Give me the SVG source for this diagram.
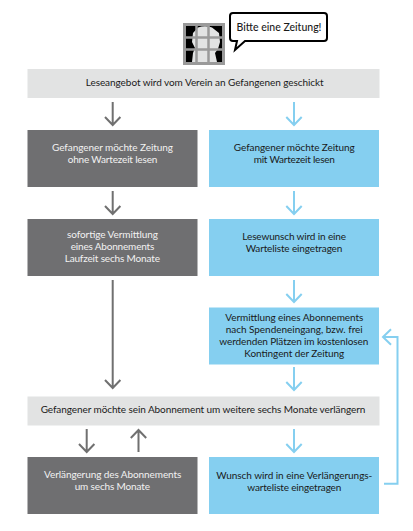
<svg xmlns="http://www.w3.org/2000/svg" width="413" height="531" viewBox="0 0 413 531">
<style>
text{font-family:"Lato","Open Sans",sans-serif;font-size:10px;text-anchor:middle;fill:#1a1a1a}
.w{fill:#f2f2f2}
.g{fill:#e2e3e3}.d{fill:#6f6f71}.b{fill:#85cff0}
.ag,.ab{fill:none;stroke-width:2}
.ag{stroke:#707070}.ab{stroke:#85cff0}
</style>
<rect width="413" height="531" fill="#fff"/>
<g id="prisoner">
<rect x="183" y="23" width="42" height="42" fill="#9a9a9a"/>
<rect x="186" y="26" width="36" height="36" fill="#000"/>
<path d="M192 62L193 53L195 48L192 42L193 33L198 27.500Q205 25 212 27.500L219 33L220 42L218 49L215 53L217 62Z" fill="#e2e3e3"/>
<path d="M196.500 24V64M208.500 24V64M184 37.500H224M184 49.500H224" stroke="#9a9a9a" stroke-width="2.500" fill="none"/>
</g>
<g id="speech">
<path d="M233 13H324Q327 13 327 16V38Q327 41 324 41H245L235 50L237 41H233Q230 41 230 38V16Q230 13 233 13Z" fill="#fff" stroke="#000" stroke-width="2"/>
<text x="279" y="31" style="font-size:10.500px;font-weight:500">Bitte eine Zeitung!</text>
</g>
<g id="n1"><rect class="g" x="27.500" y="69" width="352" height="29"/><text x="204.700" y="86" textLength="238">Leseangebot wird vom Verein an Gefangenen geschickt</text></g>
<g id="n2"><rect class="d" x="27.500" y="130" width="170" height="57"/><text class="w" x="112.500" y="150.700" textLength="121">Gefangener möchte Zeitung</text><text class="w" x="112.500" y="162.700" textLength="89.700">ohne Wartezeit lesen</text></g>
<g id="n3"><rect class="b" x="209" y="130" width="170" height="57"/><text x="294.300" y="150.700" textLength="121">Gefangener möchte Zeitung</text><text x="294.300" y="162.700" textLength="81.300">mit Wartezeit lesen</text></g>
<g id="n4"><rect class="d" x="27.500" y="219" width="170" height="57"/><text class="w" x="112.500" y="237.700" textLength="91">sofortige Vermittlung</text><text class="w" x="112.500" y="249.500" textLength="83.700">eines Abonnements</text><text class="w" x="112.300" y="261.700" textLength="95.300">Laufzeit sechs Monate</text></g>
<g id="n5"><rect class="b" x="209" y="219" width="170" height="57"/><text x="294.200" y="239.500" textLength="103.700">Lesewunsch wird in eine</text><text x="294" y="251.500" textLength="96.700">Warteliste eingetragen</text></g>
<g id="n6"><rect class="b" x="209" y="307.500" width="170" height="57"/><text x="294.300" y="320.700" textLength="138">Vermittlung eines Abonnements</text><text x="294.200" y="332.700" textLength="137">nach Spendeneingang, bzw. frei</text><text x="293.800" y="344.700" textLength="149">werdenden Plätzen im kostenlosen</text><text x="294.300" y="356.700" textLength="100">Kontingent der Zeitung</text></g>
<g id="n7"><rect class="g" x="27.500" y="396.500" width="352" height="29"/><text x="203" y="412.700" textLength="324.700">Gefangener möchte sein Abonnement um weitere sechs Monate verlängern</text></g>
<g id="n8"><rect class="d" x="27.500" y="457" width="170" height="57"/><text class="w" x="112.700" y="477.700" textLength="137.300">Verlängerung des Abonnements</text><text class="w" x="112.300" y="489.700" textLength="75.300">um sechs Monate</text></g>
<g id="n9"><rect class="b" x="209" y="457" width="170" height="57"/><text x="294.300" y="479" textLength="156">Wunsch wird in eine Verlängerungs-</text><text x="294.300" y="490.800" textLength="94">warteliste eingetragen</text></g>
<g id="connectors">
<g class="ag">
<path d="M112.700 102V125M105 117L112.700 125L120.400 117"/>
<path d="M112.700 191V214M105 206L112.700 214L120.400 206"/>
<path d="M112.700 280V388M105 380L112.700 388L120.400 380"/>
<path d="M86.700 429V452M79 444L86.700 452L94.400 444"/>
<path d="M138.500 452V430M130.800 438L138.500 430L146.200 438"/>
</g>
<g class="ab">
<path d="M294 102V125M286.300 117L294 125L301.700 117"/>
<path d="M294 191V214M286.300 206L294 214L301.700 206"/>
<path d="M294 280V302M286.300 294L294 302L301.700 294"/>
<path d="M294 367V390M286.300 382L294 390L301.700 382"/>
<path d="M294 429V452M286.300 444L294 452L301.700 444"/>
<path d="M384 483.700H397.500V337H383M391 329.300L383 337L391 344.700"/>
</g>
</g>
</svg>
